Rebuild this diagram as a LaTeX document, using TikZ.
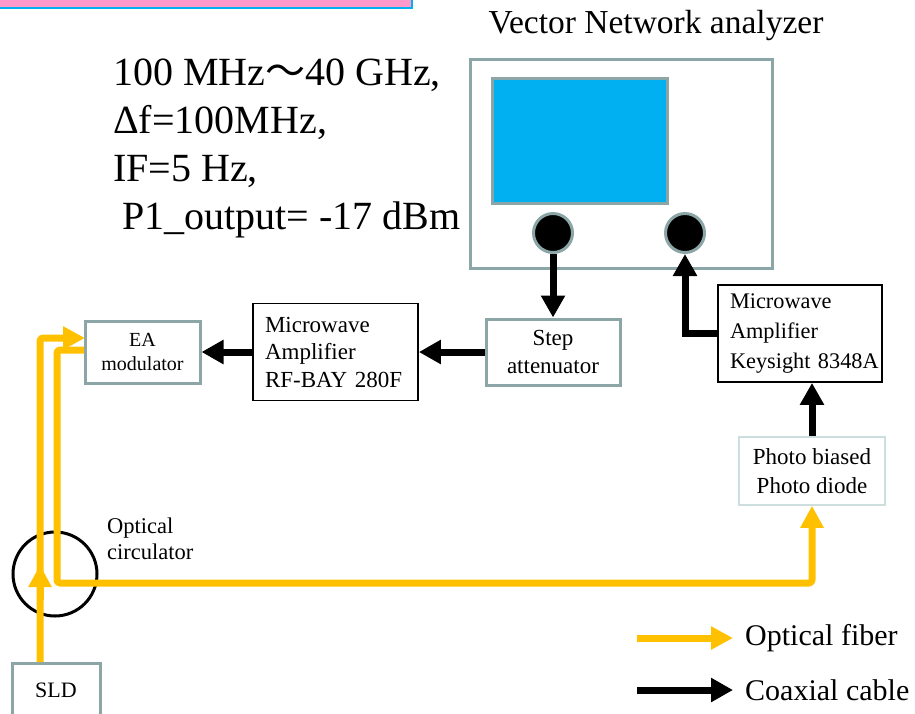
\documentclass[tikz,border=0pt]{standalone}
\usepackage{fontspec}
\setmainfont{Liberation Serif}
\newfontfamily\cjkjp{Noto Sans CJK JP}
\usetikzlibrary{arrows.meta}
\definecolor{boxgray}{RGB}{140,166,168}
\definecolor{screenblue}{RGB}{0,176,240}
\definecolor{fiberc}{RGB}{255,192,0}
\definecolor{pinkc}{RGB}{255,153,204}
\definecolor{barblue}{RGB}{0,176,240}
\definecolor{pdgray}{RGB}{205,222,222}
\newcommand{\fsz}[2]{\fontsize{#1}{#2}\selectfont}
\begin{document}
\begin{tikzpicture}[x=1pt,y=-1pt,
  graybox/.style={draw=boxgray,line width=3pt,inner sep=0pt,fill=white},
  blackbox/.style={draw=black,line width=1.8pt,inner sep=0pt,fill=white},
  coax/.style={line width=7pt,draw=black,-{Triangle[length=22pt,width=23pt]}},
  fiber/.style={line width=7pt,draw=fiberc,line join=round,rounded corners=3pt,-{Triangle[length=22pt,width=22pt,fill=fiberc]}},
  param/.style={anchor=base west,inner sep=0pt,font=\fsz{40}{48}},
  port/.style={circle,fill=black,draw=boxgray,line width=3pt,minimum size=39pt,inner sep=0pt}]
\useasboundingbox (0,0) rectangle (915,713);
% top pink bar
\path[fill=pinkc,draw=barblue,line width=2pt] (-5,-5) rectangle (412,8);
% VNA
\node (vnalabel) at (656,25) {\fsz{33.5}{38}Vector Network analyzer};
\node[graybox,minimum width=302pt,minimum height=209pt] (vna) at (621,163.5) {};
\node[draw=boxgray,line width=3pt,fill=screenblue,minimum width=175pt,minimum height=125pt,inner sep=0pt] (screen) at (579.5,140.5) {};
\node[port] (p1) at (553,233) {};
\node[port] (p2) at (685,233) {};
% parameters
\node[param] (l1) at (113,85) {100 MHz{\cjkjp ～}40 GHz,};
\node[param] (l2) at (113,133) {Δf=100MHz,};
\node[param] (l3) at (113,181) {IF=5 Hz,};
\node[param] (l4) at (113,229) {\hspace{9pt}P1\_output= -17 dBm};
% boxes
\node[graybox,minimum width=115pt,minimum height=62pt,align=center,font=\fsz{20}{24.5}] (ea) at (142.5,352) {EA\\modulator};
\node[blackbox,minimum width=165pt,minimum height=97pt,text width=141pt,align=left,font=\fsz{23}{27.5}] (rfb) at (335.5,352) {Microwave\\Amplifier\\\mbox{RF-BAY 280F}};
\node[graybox,minimum width=134pt,minimum height=66pt,align=center,font=\fsz{23}{28}] (step) at (553,352) {Step\\attenuator};
\node[blackbox,minimum width=164pt,minimum height=97pt,text width=140pt,align=left,font=\fsz{22.3}{30}] (ks) at (800,333.5) {Microwave\\Amplifier\\\mbox{Keysight 8348A}};
\node[draw=pdgray,line width=1.5pt,fill=white,inner sep=0pt,minimum width=146pt,minimum height=68pt,align=center,font=\fsz{23}{29}] (pd) at (812,471) {Photo biased\\Photo diode};
\node[graybox,minimum width=88pt,minimum height=62pt] (sld) at (56,694) {};
\node[font=\fsz{22}{26}] (sldtext) at (56,690) {SLD};
% circulator
\node[circle,draw=black,line width=3pt,minimum size=84pt,inner sep=0pt] (circ) at (55,574) {};
\node[anchor=north west,inner sep=0pt,align=left,font=\fsz{22.5}{26}] (circtext) at (107,518) {Optical\\circulator};
% coax connections
\draw[coax] (p1.south) -- (step.north);
\draw[coax] (step.west) -- (rfb.east);
\draw[coax] (rfb.west) -- (ea.east);
\draw[coax] (ks.west) -| (p2.south);
\draw[coax] (pd.north) -- (pd.north |- ks.south);
% fibers
\coordinate (sldout) at (40,662);
\coordinate (eain) at (85,338);
\coordinate (eaout) at (84,350);
\coordinate (bend) at (57,583);
\coordinate (circa) at (40,600);
\coordinate (circb) at (40,565);
\draw[fiber] (eaout) -- (57,350) -- (bend) -| (pd.south);
\draw[fiber] (sldout) |- (eain);
\draw[fiber] (circa) -- (circb);
% legend
\coordinate (lfa) at (637,638);
\coordinate (lfb) at (733,638);
\coordinate (lca) at (637,690);
\coordinate (lcb) at (733,690);
\draw[fiber] (lfa) -- (lfb);
\draw[coax] (lca) -- (lcb);
\node[anchor=west,inner sep=0pt,font=\fsz{30}{34}] (lft) at (745,638) {Optical fiber};
\node[anchor=west,inner sep=0pt,font=\fsz{30}{34}] (lct) at (745,690) {Coaxial cable};
\end{tikzpicture}
\end{document}
